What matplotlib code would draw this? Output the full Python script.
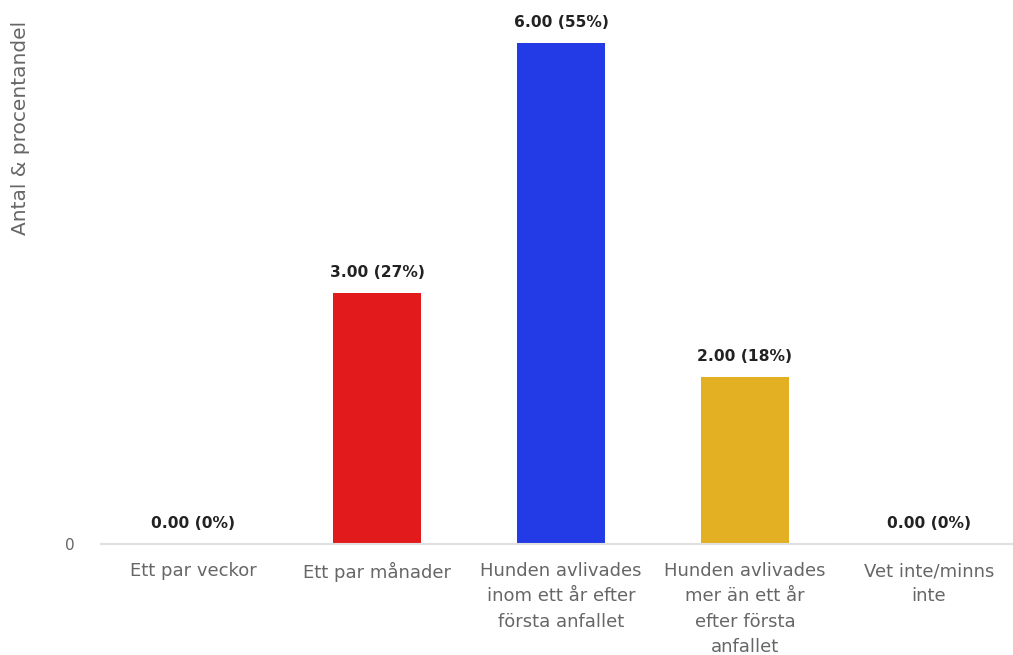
import matplotlib
matplotlib.use("Agg")
import matplotlib.pyplot as plt

plt.rcParams["font.family"] = ["DejaVu Sans"]

# survey answers: how long until the dog was put down
categories = [
    "Ett par veckor",
    "Ett par månader",
    "Hunden avlivades\ninom ett år efter\nförsta anfallet",
    "Hunden avlivades\nmer än ett år\nefter första\nanfallet",
    "Vet inte/minns\ninte",
]
counts = [0, 3, 6, 2, 0]
percents = [0, 27, 55, 18, 0]
colors = ["#2a3fe6", "#e31a1c", "#223be6", "#e3b024", "#2a3fe6"]

fig = plt.figure(figsize=(10.13, 6.55), dpi=100)
ax = fig.add_axes([101 / 1013, 1 - 544 / 655, 920 / 1013, 543 / 655])

x = range(len(categories))
ax.bar(x, counts, width=0.475, color=colors)
for i, (c, p) in enumerate(zip(counts, percents)):
    ax.annotate("%.2f (%d%%)" % (c, p), (i, c), xytext=(0, 9.5),
                textcoords="offset points", ha="center", va="bottom",
                fontsize=11.2, fontweight="bold", color="#222222")

ax.set_xlim(-0.5, 4.5)
ax.set_ylim(0, 6.5)
ax.set_xticks(list(x))
ax.set_xticklabels(categories, fontsize=13, color="#666666", linespacing=1.53)
ax.set_yticks([0])
ax.set_yticklabels(["0"], fontsize=11, color="#666666")
ax.tick_params(axis="both", length=0)
ax.tick_params(axis="x", pad=13)
ax.tick_params(axis="y", pad=19)
for side in ["top", "right", "left"]:
    ax.spines[side].set_visible(False)
ax.spines["bottom"].set_color("#e0e0e0")
ax.spines["bottom"].set_linewidth(1.5)

fig.text(21 / 1013, 1 - 128 / 655, "Antal & procentandel", rotation=90,
         ha="center", va="center", fontsize=14.5, color="#666666")

fig.savefig("out.png", dpi=100)
